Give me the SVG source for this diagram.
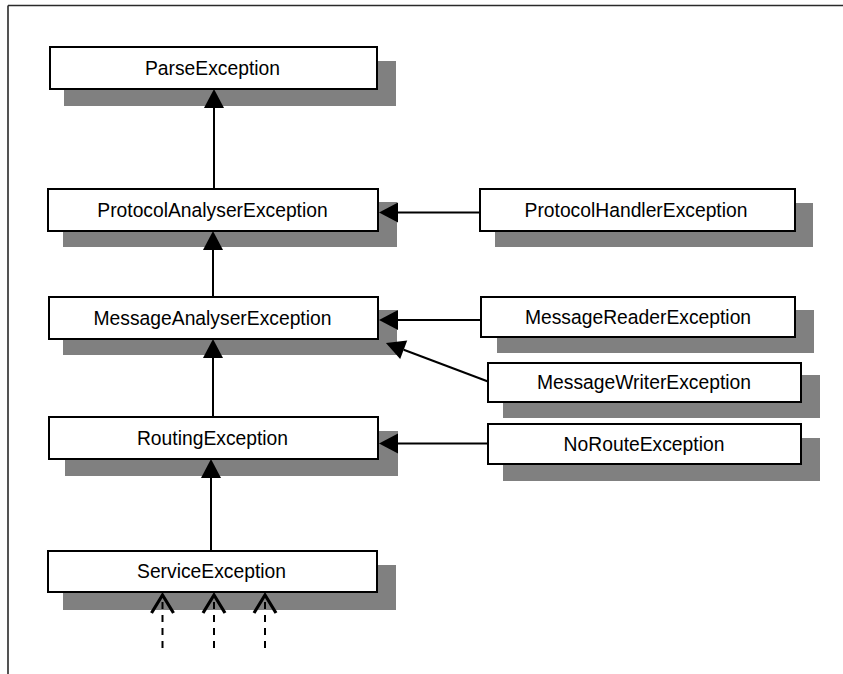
<svg xmlns="http://www.w3.org/2000/svg" width="843" height="674" viewBox="0 0 843 674">
  <style>
    .frame { stroke: #2a2a2a; stroke-width: 1.6; fill: none; }
    .shadow { fill: #808080; }
    .box { fill: #ffffff; stroke: #000000; stroke-width: 2; }
    .label { font-family: "Liberation Sans", Arial, Helvetica, sans-serif; font-size: 19.3px; fill: #000000; text-anchor: middle; }
    .edge { stroke: #000000; stroke-width: 2; fill: none; marker-end: url(#solidHead); }
    .dep { stroke: #000000; stroke-width: 2; fill: none; stroke-dasharray: 7 6; marker-end: url(#openHead); }
  </style>
  <defs>
    <!-- filled triangle, drawn from the end of the line to the tip -->
    <marker id="solidHead" markerUnits="userSpaceOnUse" markerWidth="22" markerHeight="22" viewBox="0 -11 22 22" refX="0" refY="0" orient="auto" overflow="visible">
      <path d="M0,-10 L19,0 L0,10 z" fill="#000000" stroke="none"/>
    </marker>
    <!-- open chevron for dependency arrows -->
    <marker id="openHead" markerUnits="userSpaceOnUse" markerWidth="26" markerHeight="28" viewBox="-2 -14 26 28" refX="18" refY="0" orient="auto" overflow="visible">
      <path d="M0,-11 L18,0 L0,11" fill="none" stroke="#000000" stroke-width="3.2" stroke-dasharray="none"/>
    </marker>
  </defs>

  <rect width="843" height="674" fill="#ffffff"/>

  <!-- page frame -->
  <path class="frame" d="M8,5.5 H843 M8,5.5 V674"/>

  <!-- nodes -->
  <g id="ParseException">
    <rect class="shadow" x="64" y="61" width="332" height="45"/>
    <rect class="box" x="50" y="47" width="327" height="42"/>
    <text class="label" x="212.5" y="74.5">ParseException</text>
  </g>
  <g id="ProtocolAnalyserException">
    <rect class="shadow" x="63" y="202" width="334" height="45"/>
    <rect class="box" x="48" y="189" width="330" height="42"/>
    <text class="label" x="212.5" y="216.5">ProtocolAnalyserException</text>
  </g>
  <g id="MessageAnalyserException">
    <rect class="shadow" x="63" y="310" width="334" height="45"/>
    <rect class="box" x="49" y="297" width="329" height="42"/>
    <text class="label" x="212.5" y="324.5">MessageAnalyserException</text>
  </g>
  <g id="RoutingException">
    <rect class="shadow" x="65" y="431" width="333" height="45"/>
    <rect class="box" x="49" y="417" width="329" height="42"/>
    <text class="label" x="212.5" y="444.5">RoutingException</text>
  </g>
  <g id="ServiceException">
    <rect class="shadow" x="63" y="565" width="333" height="45"/>
    <rect class="box" x="48" y="551" width="329" height="41"/>
    <text class="label" x="211.5" y="578">ServiceException</text>
  </g>
  <g id="ProtocolHandlerException">
    <rect class="shadow" x="495" y="203" width="318" height="44"/>
    <rect class="box" x="480" y="189" width="315" height="42"/>
    <text class="label" x="636" y="216.5">ProtocolHandlerException</text>
  </g>
  <g id="MessageReaderException">
    <rect class="shadow" x="497" y="310" width="317" height="43"/>
    <rect class="box" x="481" y="297" width="314" height="40"/>
    <text class="label" x="638" y="323.5">MessageReaderException</text>
  </g>
  <g id="MessageWriterException">
    <rect class="shadow" x="503" y="375" width="317" height="43"/>
    <rect class="box" x="488" y="363" width="313" height="39"/>
    <text class="label" x="644" y="389">MessageWriterException</text>
  </g>
  <g id="NoRouteException">
    <rect class="shadow" x="503" y="438" width="317" height="43"/>
    <rect class="box" x="488" y="424" width="313" height="40"/>
    <text class="label" x="644" y="450.5">NoRouteException</text>
  </g>

  <!-- connectors -->
  <g id="connectors">
    <path class="edge" d="M214,189 V108"/>
    <path class="edge" d="M213,297 V250"/>
    <path class="edge" d="M213,417 V358"/>
    <path class="edge" d="M211,551 V478"/>
    <path class="edge" d="M480,212.5 H398"/>
    <path class="edge" d="M481,320 H398"/>
    <path class="edge" d="M488,381.5 L403.7,349.75"/>
    <path class="edge" d="M488,443.5 H398"/>
    <path class="dep" d="M162.5,648 V595"/>
    <path class="dep" d="M214,648 V595"/>
    <path class="dep" d="M265,648 V595"/>
  </g>
</svg>
